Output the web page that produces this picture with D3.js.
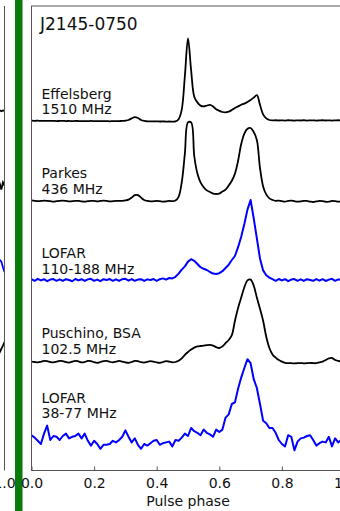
<!DOCTYPE html>
<html>
<head>
<meta charset="utf-8">
<script src="https://cdn.jsdelivr.net/npm/d3@7"></script>
<style>
  body { margin: 0; background: #fff; }
  svg { display: block; }
  text { font-family: "DejaVu Sans", sans-serif; fill: #111; }
</style>
</head>
<body>
<svg id="chart" width="340" height="511"></svg>
<script>
// ---- data -------------------------------------------------------------
const pulsarName = "J2145-0750";
const tickValues = [0.0, 0.2, 0.4, 0.6, 0.8, 1.0];
const phaseStep = 0.01;

const observations = [
  ["Effelsberg", "1510 MHz"],
  ["Parkes", "436 MHz"],
  ["LOFAR", "110-188 MHz"],
  ["Puschino, BSA", "102.5 MHz"],
  ["LOFAR", "38-77 MHz"]
];
const offsets = [4, 3, 2, 1, 0];
const labelLevels = [4.07, 3.08, 2.08, 1.08, 0.27];

const effelsberg1510 = [
  -0.008,-0.010,-0.009,-0.011,-0.010,-0.012,-0.010,-0.011,-0.013,-0.012,
  -0.011,-0.013,-0.012,-0.014,-0.012,-0.013,-0.015,-0.013,-0.014,-0.012,
  -0.014,-0.015,-0.013,-0.015,-0.014,-0.016,-0.014,-0.015,-0.013,-0.012,
  -0.008, 0.000, 0.020, 0.035, 0.025, 0.000,-0.012,-0.016,-0.017,-0.018,
  -0.017,-0.019,-0.018,-0.020,-0.019,-0.020,-0.018, 0.010, 0.130, 0.550,
   1.020, 0.620, 0.290, 0.220, 0.180, 0.170, 0.180, 0.190, 0.170, 0.135,
   0.115, 0.100, 0.095, 0.105, 0.125, 0.150, 0.170, 0.190, 0.205, 0.225,
   0.250, 0.280, 0.310, 0.190, 0.070, 0.020, 0.000,-0.005,-0.003,-0.006,
  -0.004,-0.007,-0.003,-0.005,-0.008,-0.004,-0.006,-0.003,-0.007,-0.005,
  -0.004,-0.008,-0.005,-0.003,-0.006,-0.004,-0.007,-0.005,-0.003,-0.006,
  -0.005
];

const parkes436 = [
  -0.005,-0.010,-0.015,-0.012,-0.008,-0.010,-0.015,-0.020,-0.015,-0.010,
  -0.008,-0.012,-0.018,-0.015,-0.010,-0.012,-0.018,-0.020,-0.015,-0.010,
  -0.012,-0.016,-0.012,-0.008,-0.012,-0.018,-0.015,-0.010,-0.012,-0.010,
  -0.005, 0.005, 0.030, 0.060, 0.060, 0.030, 0.000,-0.012,-0.018,-0.015,
  -0.010,-0.015,-0.020,-0.018,-0.012,-0.015,-0.005, 0.040, 0.220, 0.580,
   0.970, 0.970, 0.550, 0.330, 0.220, 0.160, 0.120, 0.100, 0.080, 0.075,
   0.080, 0.105, 0.130, 0.180, 0.240, 0.330, 0.490, 0.700, 0.830, 0.890,
   0.900, 0.850, 0.750, 0.400, 0.170, 0.070, 0.020, 0.000,-0.010,-0.008,
  -0.015,-0.020,-0.012,-0.008,-0.015,-0.020,-0.018,-0.010,-0.012,-0.020,
  -0.025,-0.018,-0.012,-0.015,-0.022,-0.020,-0.012,-0.015,-0.020,-0.018,
  -0.012
];

const lofarHBA = [
   0.010,-0.010, 0.015,-0.005, 0.010,-0.015, 0.005, 0.012,-0.010, 0.008,
  -0.012, 0.010, 0.000,-0.015, 0.012,-0.005, 0.010,-0.012, 0.008, 0.015,
  -0.010, 0.005,-0.015, 0.010, 0.000, 0.012,-0.010, 0.008,-0.012, 0.010,
   0.015,-0.008, 0.012,-0.010, 0.005, 0.010,-0.012, 0.008, 0.000, 0.012,
  -0.010, 0.010, 0.020, 0.005, 0.025, 0.020, 0.040, 0.080, 0.130, 0.170,
   0.230, 0.260, 0.240, 0.200, 0.160, 0.140, 0.125, 0.100, 0.080, 0.075,
   0.085, 0.110, 0.150, 0.190, 0.250, 0.300, 0.410, 0.540, 0.700, 0.880,
   1.000, 0.770, 0.520, 0.270, 0.120, 0.060, 0.030, 0.010,-0.010, 0.012,
  -0.005, 0.010,-0.015, 0.005, 0.012,-0.010, 0.008,-0.012, 0.010, 0.000,
  -0.010, 0.012,-0.008, 0.010,-0.012, 0.005, 0.015,-0.010, 0.008, 0.000,
   0.010
];

const puschino102 = [
  -0.020,-0.025,-0.030,-0.022,-0.012,-0.015,-0.025,-0.030,-0.020,-0.010,
  -0.015,-0.028,-0.032,-0.020,-0.010,-0.018,-0.030,-0.025,-0.012,-0.015,
  -0.028,-0.035,-0.025,-0.015,-0.012,-0.022,-0.030,-0.020,-0.012,-0.020,
  -0.030,-0.035,-0.025,-0.012,-0.015,-0.028,-0.032,-0.022,-0.015,-0.020,
  -0.030,-0.035,-0.025,-0.015,-0.020,-0.030,-0.025,-0.010, 0.020, 0.065,
   0.100, 0.130, 0.155, 0.170, 0.175, 0.180, 0.185, 0.190, 0.180, 0.160,
   0.150, 0.170, 0.210, 0.250, 0.310, 0.490, 0.650, 0.780, 0.910, 0.995,
   1.005, 0.930, 0.780, 0.640, 0.490, 0.290, 0.150, 0.070, 0.030, 0.000,
  -0.020,-0.035,-0.040,-0.040,-0.042,-0.040,-0.038,-0.042,-0.040,-0.035,
  -0.040,-0.040,-0.030,-0.020, 0.000, 0.020, 0.025, 0.000,-0.010,-0.020,
  -0.020
];

const lofarLBA = [
   0.06, 0.03,-0.01,-0.05, 0.08, 0.18, 0.00, 0.05, 0.04, 0.00,
   0.05, 0.08, 0.02, 0.04, 0.05, 0.08, 0.02, 0.08,-0.01,-0.07,
  -0.01,-0.05,-0.11,-0.06,-0.06,-0.05,-0.01,-0.03, 0.00, 0.04,
   0.12, 0.04,-0.03, 0.02,-0.06,-0.11,-0.05,-0.07,-0.04,-0.01,
   0.00,-0.06,-0.04,-0.03,-0.02,-0.08, 0.00,-0.01, 0.03, 0.08,
   0.05, 0.15, 0.11, 0.09, 0.06, 0.13, 0.09, 0.07, 0.04, 0.13,
   0.10, 0.13, 0.28, 0.32, 0.45, 0.47, 0.64, 0.78, 0.90, 1.01,
   0.96, 0.76, 0.65, 0.45, 0.24, 0.21, 0.15, 0.15, 0.09, 0.00,
  -0.05,-0.08, 0.06, 0.04,-0.13,-0.02, 0.02, 0.03, 0.05, 0.06,
   0.00,-0.07,-0.04,-0.02,-0.03, 0.04,-0.08, 0.02,-0.03, 0.00,
  -0.02
];

const profiles = [effelsberg1510, parkes436, lofarHBA, puschino102, lofarLBA];

// last few bins of the neighbouring pulsar's profiles (phase 0.98 - 1.00)
const neighbourPhases = [0.980, 0.985, 0.990, 0.995, 1.000];
const neighbourOffsets = [4, 3, 2, 1];
const neighbourProfiles = [
  [0.11, 0.12, 0.11, 0.12, 0.115],
  [0.15, 0.20, 0.13, 0.22, 0.18],
  [0.26, 0.25, 0.23, 0.16, 0.10],
  [0.06, 0.10, 0.14, 0.18, 0.225]
];
const neighbourIsLofar = [false, false, true, false];

// ---- styling ----------------------------------------------------------
const lineColor = isLofar => isLofar ? "#0000ff" : "#000";
const smoothCurve = d3.curveCatmullRom.alpha(0.5);

// ---- layout -----------------------------------------------------------
const svg = d3.select("#chart");
const frame = { left: 31.5, right: 344.5, top: 6, bottom: 470.5 };

const x = d3.scaleLinear().domain([0, 1]).range([frame.left, frame.right]);
const y = d3.scaleLinear().domain([0, 1]).range([440, 360]);
const phaseOf = i => i * phaseStep;

// green separator bar between panels
svg.append("rect")
  .attr("x", 15).attr("y", 0).attr("width", 7.5).attr("height", 511)
  .attr("fill", "#0a7a0a");

// ---- neighbouring panel (only its right edge is in view) --------------
const xLeft = d3.scaleLinear().domain([0, 1]).range([4.5 - 313, 4.5]);
svg.append("clipPath").attr("id", "clipLeft")
  .append("rect").attr("x", 0).attr("y", frame.top)
  .attr("width", 4.5).attr("height", frame.bottom - frame.top);

const gLeft = svg.append("g").attr("clip-path", "url(#clipLeft)");
neighbourProfiles.forEach((vals, k) => {
  gLeft.append("path")
    .datum(vals)
    .attr("fill", "none")
    .attr("stroke", lineColor(neighbourIsLofar[k]))
    .attr("stroke-width", 1.8)
    .attr("d", d3.line()
      .x((d, i) => xLeft(neighbourPhases[i]))
      .y(d => y(d + neighbourOffsets[k])));
});
svg.append("line")
  .attr("x1", 4.5).attr("x2", 4.5).attr("y1", frame.top).attr("y2", frame.bottom)
  .attr("stroke", "#555").attr("stroke-width", 1);
svg.append("text")
  .attr("x", xLeft(1)).attr("y", 488)
  .attr("text-anchor", "middle").attr("font-size", 14)
  .text(d3.format(".1f")(1.0));

// ---- main panel -------------------------------------------------------
svg.append("clipPath").attr("id", "clipMain")
  .append("rect").attr("x", frame.left).attr("y", frame.top)
  .attr("width", frame.right - frame.left).attr("height", frame.bottom - frame.top);

const gMain = svg.append("g").attr("clip-path", "url(#clipMain)");
profiles.forEach((vals, k) => {
  const isLofar = observations[k][0] === "LOFAR";
  gMain.append("path")
    .datum(vals)
    .attr("fill", "none")
    .attr("stroke", lineColor(isLofar))
    .attr("stroke-width", isLofar ? 2 : 1.8)
    .attr("stroke-linejoin", "round")
    .attr("d", d3.line()
      .curve(isLofar ? d3.curveLinear : smoothCurve)
      .x((d, i) => x(phaseOf(i)))
      .y(d => y(d + offsets[k])));
});

// observation labels
observations.forEach((lines, k) => {
  const base = y(labelLevels[k]);
  const t = svg.append("text").attr("font-size", 14);
  t.append("tspan").attr("x", 41.5).attr("y", base - 15.5).text(lines[0]);
  t.append("tspan").attr("x", 41.5).attr("y", base).text(lines[1]);
});

// pulsar name
svg.append("text")
  .attr("x", 40).attr("y", 29.5).attr("font-size", 17)
  .text(pulsarName);

// frame
svg.append("rect")
  .attr("x", frame.left).attr("y", frame.top)
  .attr("width", frame.right - frame.left).attr("height", frame.bottom - frame.top)
  .attr("fill", "none").attr("stroke", "#555").attr("stroke-width", 1);

// x axis: inward ticks, labels below
const xAxis = d3.axisBottom(x)
  .tickValues(tickValues)
  .tickSizeInner(-4).tickSizeOuter(0)
  .tickPadding(10)
  .tickFormat(d3.format(".1f"));
const gAxis = svg.append("g")
  .attr("transform", `translate(0,${frame.bottom})`)
  .call(xAxis);
gAxis.select(".domain").remove();
gAxis.selectAll(".tick line").attr("stroke", "#555");
gAxis.selectAll(".tick text")
  .attr("font-size", 14).attr("font-family", "DejaVu Sans, sans-serif")
  .attr("fill", "#111").attr("dy", null).attr("y", 17.5);

svg.append("text")
  .attr("x", (frame.left + frame.right) / 2).attr("y", 506)
  .attr("text-anchor", "middle").attr("font-size", 14)
  .text("Pulse phase");
</script>
</body>
</html>
